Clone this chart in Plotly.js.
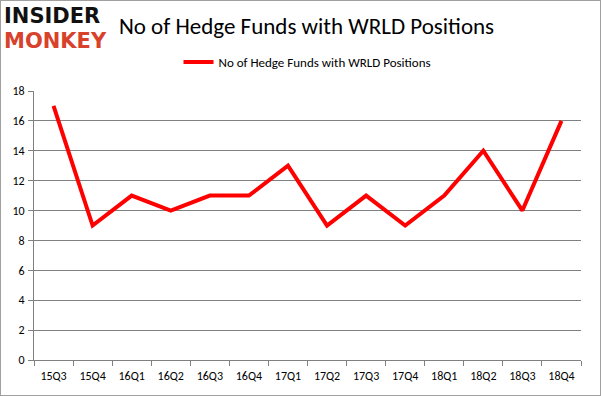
<!DOCTYPE html>
<html><head><meta charset="utf-8">
<script src="https://cdn.plot.ly/plotly-3.0.1.min.js"></script>
<style>
html,body{margin:0;padding:0;background:#fff;}
#wrap{position:relative;width:601px;height:396px;}
#chart{width:601px;height:396px;}
#border{position:absolute;left:0;top:0;width:599px;height:394px;border:1px solid #a0a0a0;pointer-events:none;}
</style>
</head><body>
<div id="wrap"><div id="chart"></div><div id="border"></div></div>
<script>
const quarters = ["15Q3","15Q4","16Q1","16Q2","16Q3","16Q4","17Q1","17Q2","17Q3","17Q4","18Q1","18Q2","18Q3","18Q4"];
const hedgeFunds = [17, 9, 11, 10, 11, 11, 13, 9, 11, 9, 11, 14, 10, 16];
const seriesName = "No of Hedge Funds with WRLD Positions";
const yTicks = [0,2,4,6,8,10,12,14,16,18];

const font = "Carlito, Calibri, 'Open Sans', 'Liberation Sans', sans-serif";

Plotly.newPlot("chart", [{
  x: quarters, y: hedgeFunds, type: "scatter", mode: "lines",
  name: seriesName, line: {color: "#ff0000", width: 4}
}], {
  width: 601, height: 396,
  margin: {l: 34, r: 20, t: 91, b: 36},
  paper_bgcolor: "#fff", plot_bgcolor: "#fff",
  font: {family: font, size: 12, color: "#000"},
  title: {text: seriesName, font: {family: font, size: 23, color: "#000"}, x: 0.51, xanchor: "center", y: 0.935, yanchor: "middle"},
  showlegend: true,
  legend: {orientation: "h", x: 0.5, xanchor: "center", y: 1.108, yanchor: "middle", font: {size: 13}, bgcolor: "rgba(0,0,0,0)"},
  xaxis: {type: "category", tickson: "boundaries", ticks: "outside", ticklen: 5, tickcolor: "#808080",
          showline: true, linecolor: "#808080", linewidth: 1, showgrid: false, zeroline: false,
          tickfont: {size: 12}, ticklabelstandoff: 5, range: [-0.5, quarters.length - 0.5], fixedrange: true},
  yaxis: {range: [0, 18], tickvals: yTicks, ticks: "outside", ticklen: 5, tickcolor: "#808080",
          showline: true, linecolor: "#808080", showgrid: true, gridcolor: "#808080", gridwidth: 1,
          zeroline: false, tickfont: {size: 12}, ticklabelstandoff: 1, fixedrange: true},
  annotations: [
    {text: "<b>INSIDER</b>", xref: "paper", yref: "paper", x: -0.058, y: 1.28, xanchor: "left", yanchor: "middle",
     showarrow: false, font: {family: "'DejaVu Sans', sans-serif", size: 21, color: "#111"}},
    {text: "<b>MONKEY</b>", xref: "paper", yref: "paper", x: -0.058, y: 1.185, xanchor: "left", yanchor: "middle",
     showarrow: false, font: {family: "'DejaVu Sans', sans-serif", size: 21, color: "#d8412b"}}
  ]
}, {displayModeBar: false, staticPlot: true});
</script>
</body></html>
